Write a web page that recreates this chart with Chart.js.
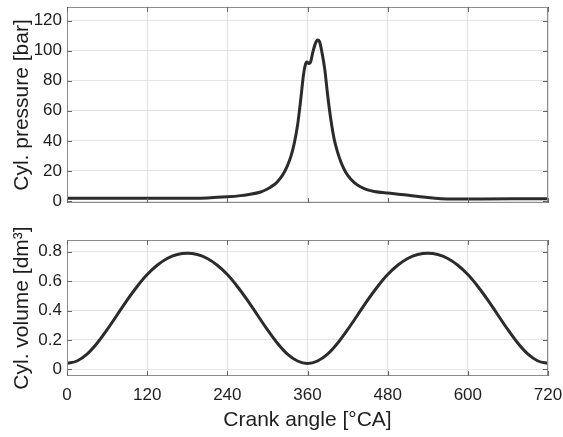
<!DOCTYPE html>
<html>
<head>
<meta charset="utf-8">
<script src="https://cdn.jsdelivr.net/npm/chart.js@4/dist/chart.umd.min.js"></script>
<style>
  body { margin: 0; background: #fff; }
  .box { position: absolute; left: 0; width: 563px; }
</style>
</head>
<body>
<div class="box" style="top:0;height:220px"><canvas id="pressure" width="563" height="220"></canvas></div>
<div class="box" style="top:220px;height:217px"><canvas id="volume" width="563" height="217"></canvas></div>
<script>
// crank angle ticks
var angleTicks = [0, 120, 240, 360, 480, 600, 720];
var pressureTicks = [0, 20, 40, 60, 80, 100, 120];
var volumeTicks = [0, 0.2, 0.4, 0.6, 0.8];

// cylinder pressure [bar] vs crank angle [°CA]
var pAngle = [0, 60, 120, 180, 210, 240, 260, 270, 290, 300, 310, 315, 320, 325, 330, 335, 340, 345, 350, 354, 357, 359,
  362, 365, 368, 372, 375, 378, 382, 386, 390, 395, 400, 405, 410, 415, 420, 430, 440, 450, 460, 480, 500,
  520, 540, 560, 580, 620, 680, 720];
var pressure = [1.8, 1.8, 1.8, 1.9, 2.1, 2.8, 3.6, 4.2, 6.0, 8.0, 10.8, 12.8, 15.5, 19, 23.5, 29.5, 38, 50, 68, 84, 91, 92.5,
  91.5, 93, 99, 105, 107, 106, 98, 87, 71, 54, 41, 32.5, 26, 21, 17.2, 12.2, 9.3, 7.4, 6.4, 5.3, 4.4,
  3.3, 2.3, 1.6, 1.4, 1.4, 1.5, 1.6];

// cylinder volume [dm3] vs crank angle [°CA]
var vAngle = [0, 15, 30, 45, 60, 75, 90, 105, 120, 135, 150, 165, 180, 195, 210, 225, 240, 255, 270, 285,
  300, 315, 330, 345, 360, 375, 390, 405, 420, 435, 450, 465, 480, 495, 510, 525, 540, 555, 570, 585,
  600, 615, 630, 645, 660, 675, 690, 705, 720];
var volume = [0.040, 0.057, 0.104, 0.178, 0.270, 0.370, 0.471, 0.564, 0.645, 0.708, 0.754, 0.781, 0.790,
  0.781, 0.754, 0.708, 0.645, 0.564, 0.471, 0.370, 0.270, 0.178, 0.104, 0.057, 0.040,
  0.057, 0.104, 0.178, 0.270, 0.370, 0.471, 0.564, 0.645, 0.708, 0.754, 0.781, 0.790,
  0.781, 0.754, 0.708, 0.645, 0.564, 0.471, 0.370, 0.270, 0.178, 0.104, 0.057, 0.040];

var FONT = '"Liberation Sans", Arial, sans-serif';
var TXT = '#1e1e1e';

function pts(xs, ys) {
  return xs.map(function (x, i) { return { x: x, y: ys[i] }; });
}

// matlab style box with inward ticks
var boxPlugin = {
  id: 'boxTicks',
  afterDraw: function (chart) {
    var ctx = chart.ctx, a = chart.chartArea;
    var xs = chart.scales.x, ys = chart.scales.y;
    ctx.save();
    ctx.strokeStyle = '#8c8c8c';
    ctx.lineWidth = 1;
    ctx.strokeRect(a.left + 0.5, a.top + 0.5, a.right - a.left - 1, a.bottom - a.top - 1);
    ctx.strokeStyle = '#666';
    ctx.beginPath();
    xs.ticks.forEach(function (t) {
      var px = Math.round(xs.getPixelForValue(t.value)) + 0.5;
      ctx.moveTo(px, a.bottom); ctx.lineTo(px, a.bottom - 5);
      ctx.moveTo(px, a.top); ctx.lineTo(px, a.top + 5);
    });
    ys.ticks.forEach(function (t) {
      var py = Math.round(ys.getPixelForValue(t.value)) + 0.5;
      ctx.moveTo(a.left, py); ctx.lineTo(a.left + 5, py);
      ctx.moveTo(a.right, py); ctx.lineTo(a.right - 5, py);
    });
    ctx.stroke();
    ctx.restore();
  }
};

function makeChart(id, data, yMin, yMax, yTicks, yTitle, yFmt, bottom) {
  return new Chart(document.getElementById(id), {
    type: 'line',
    data: {
      datasets: [{
        data: data,
        borderColor: '#2b2b2b',
        borderWidth: 3,
        pointRadius: 0,
        fill: false,
        cubicInterpolationMode: 'monotone'
      }]
    },
    options: {
      responsive: false,
      animation: false,
      layout: { padding: { top: bottom ? 20 : 7, right: 15, left: 0, bottom: 0 } },
      plugins: { legend: { display: false }, tooltip: { enabled: false } },
      scales: {
        x: {
          type: 'linear', min: 0, max: 720,
          afterBuildTicks: function (s) { s.ticks = angleTicks.map(function (v) { return { value: v }; }); },
          afterFit: function (s) {
            s.height = bottom ? 61 : 17;
            s.paddingLeft = 0; s.paddingRight = 0;
          },
          grid: { color: '#e4e4e4', drawTicks: false },
          border: { display: false },
          ticks: { display: bottom, padding: 9, color: TXT, font: { family: FONT, size: 17 } },
          title: {
            display: bottom, text: 'Crank angle [°CA]', color: TXT,
            font: { family: FONT, size: 21 }, padding: { top: 0, bottom: 4 }
          }
        },
        y: {
          type: 'linear', min: yMin, max: yMax,
          afterBuildTicks: function (s) { s.ticks = yTicks.map(function (v) { return { value: v }; }); },
          afterFit: function (s) {
            s.width = 67;
            s.paddingTop = 0; s.paddingBottom = 0;
          },
          grid: { color: '#e4e4e4', drawTicks: false },
          border: { display: false },
          ticks: { padding: 5, color: TXT, font: { family: FONT, size: 17 }, callback: yFmt },
          title: {
            display: true, text: yTitle, color: TXT,
            font: { family: FONT, size: 21 }, padding: { top: 10, bottom: 0 }
          }
        }
      }
    },
    plugins: [boxPlugin]
  });
}

makeChart('pressure', pts(pAngle, pressure), -1.3, 129, pressureTicks, 'Cyl. pressure [bar]',
  function (v) { return String(v); }, false);
makeChart('volume', pts(vAngle, volume), -0.045, 0.88, volumeTicks, 'Cyl. volume [dm³]',
  function (v) { return String(Math.round(v * 10) / 10); }, true);
</script>
</body>
</html>
